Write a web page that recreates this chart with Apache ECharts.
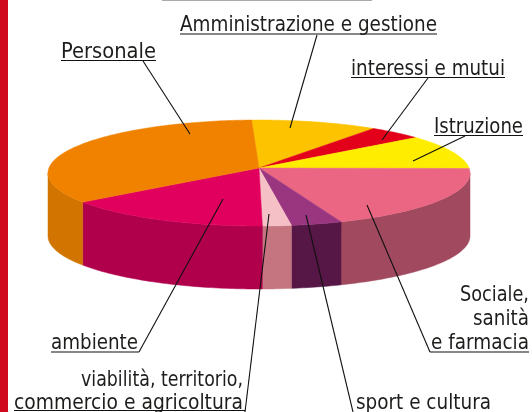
<!DOCTYPE html>
<html>
<head>
<meta charset="utf-8">
<style>
  html, body { margin: 0; padding: 0; background: #fff; }
  #main { width: 532px; height: 412px; }
</style>
<script src="https://cdn.jsdelivr.net/npm/echarts@6/dist/echarts.min.js"></script>
</head>
<body>
<div id="main"></div>
<script>
// slices, clockwise from the top of the pie (%)
var categories = ['Amministrazione e gestione', 'interessi e mutui', 'Istruzione', 'Sociale, sanità e farmacia',
  'sport e cultura', 'viabilità, territorio, commercio e agricoltura', 'ambiente', 'Personale'];
var values = [9.7, 4.2, 10.3, 20.0, 3.9, 2.2, 16.0, 33.7];
var topColors = ['#fdc300', '#e2001a', '#ffed00', '#eb6683', '#9a3680', '#f6c1c6', '#e2005f', '#f08200'];
var sideColors = ['#c99b00', '#b00014', '#c9bb00', '#a0495f', '#561646', '#c4757f', '#b0004c', '#d27500'];

var pie = { cx: 259, cy: 173, apexY: 168, rx: 211, ry: 53, depth: 63, startDeg: 92 };
var total = values.reduce(function (a, b) { return a + b; }, 0);

function rim(deg, dy) {
  var t = deg * Math.PI / 180;
  return [pie.cx + pie.rx * Math.cos(t), pie.cy - pie.ry * Math.sin(t) + (dy || 0)];
}

function renderSlice(params, api) {
  var i = params.dataIndex;
  var before = 0;
  for (var k = 0; k < i; k++) before += values[k];
  var a0 = pie.startDeg - before / total * 360;
  var a1 = a0 - api.value(0) / total * 360;

  var top = [[pie.cx, pie.apexY]];
  for (var d = a0; d > a1; d -= 1) top.push(rim(d));
  top.push(rim(a1));

  var children = [];
  // front wall, only the part between 0 and -180 degrees is visible
  var s0 = Math.min(a0, 0);
  var s1 = Math.max(a1, -180);
  if (s0 > s1) {
    var up = [], down = [];
    for (var e = s0; e > s1; e -= 1) { up.push(rim(e)); down.unshift(rim(e, pie.depth)); }
    up.push(rim(s1));
    down.unshift(rim(s1, pie.depth));
    children.push({
      type: 'polygon',
      shape: { points: up.concat(down) },
      style: { fill: sideColors[i], stroke: sideColors[i], lineWidth: 0.5 }
    });
  }
  children.push({
    type: 'polygon',
    shape: { points: top },
    style: { fill: topColors[i], stroke: topColors[i], lineWidth: 0.5 }
  });
  return { type: 'group', children: children };
}

// label text lines: text, anchor x, baseline y, align, width in the picture
var labels = [
  ['Amministrazione e gestione', 180, 31, 'left', 257],
  ['Personale', 61, 58, 'left', 95],
  ['interessi e mutui', 351, 75, 'left', 154],
  ['Istruzione', 434, 133, 'left', 89],
  ['Sociale,', 529, 301, 'right', 69],
  ['sanità', 529, 325, 'right', 56],
  ['e farmacia', 529, 349, 'right', 98],
  ['ambiente', 51, 349, 'left', 87],
  ['viabilità, territorio,', 243, 386, 'right', 162],
  ['commercio e agricoltura', 243, 409, 'right', 229],
  ['sport e cultura', 356, 409, 'left', 135]
];
// underlines and leader lines
var underlines = [
  [180, 34, 437, 34], [61, 60.5, 156, 60.5], [351, 77.5, 505, 77.5], [434, 135.5, 523, 135.5],
  [430, 352, 529, 352], [51, 352, 139, 352], [14, 410.5, 245, 410.5]
];
var leaders = [
  [317, 35, 290, 128], [143, 61, 190, 134], [428, 78, 382, 140], [465, 136, 413, 161],
  [430, 352, 367, 205], [353, 412, 306, 215], [139, 352, 223, 199], [245, 412, 269, 214]
];

var labelFont = '21.5px "DejaVu Sans"';
var measure = document.createElement('canvas').getContext('2d');
measure.font = labelFont;

var graphics = [
  { type: 'rect', shape: { x: 0, y: 0, width: 8, height: 412 }, style: { fill: '#d0091f' }, silent: true },
  { type: 'line', shape: { x1: 162, y1: 0.5, x2: 372, y2: 0.5 }, style: { stroke: '#aaaaaa', lineWidth: 1 }, silent: true }
];
labels.forEach(function (l) {
  graphics.push({
    type: 'text', x: l[1], y: l[2] + 5, silent: true, z: 10,
    scaleX: l[4] / measure.measureText(l[0]).width,
    style: { text: l[0], align: l[3], verticalAlign: 'bottom', fill: '#1d1d1b', font: labelFont }
  });
});
underlines.concat(leaders).forEach(function (s) {
  graphics.push({
    type: 'line', silent: true, z: 10,
    shape: { x1: s[0], y1: s[1], x2: s[2], y2: s[3] },
    style: { stroke: '#111111', lineWidth: 1.1 }
  });
});

var myChart = echarts.init(document.getElementById('main'), null, { renderer: 'canvas' });
myChart.setOption({
  animation: false,
  backgroundColor: '#fff',
  graphic: graphics,
  series: [{
    type: 'custom',
    coordinateSystem: 'none',
    silent: true,
    renderItem: renderSlice,
    data: values.map(function (v, i) { return { name: categories[i], value: [v] }; })
  }]
});
</script>
</body>
</html>
